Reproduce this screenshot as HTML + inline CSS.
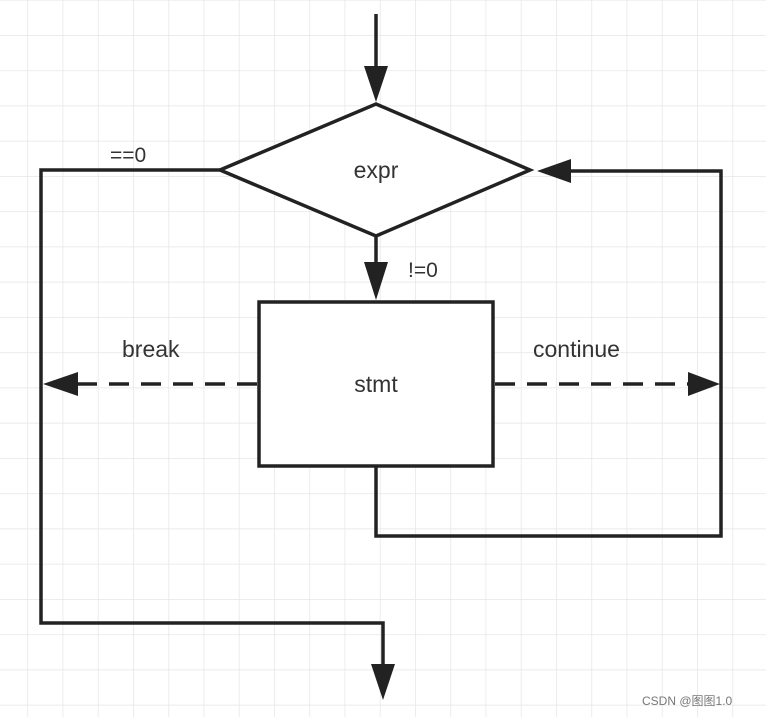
<!DOCTYPE html>
<html><head><style>
html,body{margin:0;padding:0;background:#fff;}
svg{display:block;}
text{font-family:"Liberation Sans",Arial,sans-serif;fill:#333;}
</style></head><body>
<svg width="766" height="717" viewBox="0 0 766 717" xmlns="http://www.w3.org/2000/svg">
<defs>
<pattern id="g" x="27.3" y="0" width="35.25" height="35.25" patternUnits="userSpaceOnUse">
<path d="M0 0V35.25" stroke="#e6e6e6" stroke-width="1.5"/>
</pattern>
<pattern id="h" x="0" y="35" width="35.25" height="35.25" patternUnits="userSpaceOnUse">
<path d="M0 0H35.25" stroke="#e6e6e6" stroke-width="1.5"/>
</pattern>
</defs>
<rect width="766" height="717" fill="url(#g)"/>
<rect width="766" height="717" fill="url(#h)"/>
<g stroke="#222" stroke-width="3.5" fill="none">
<line x1="376" y1="14" x2="376" y2="90"/>
<polygon points="220,170 376,104 530,170 376,236" fill="#fff"/>
<line x1="376" y1="236" x2="376" y2="265"/>
<rect x="259" y="302" width="234" height="164" fill="#fff"/>
<polyline points="220,170 41,170 41,623 383,623 383,670"/>
<polyline points="376,466 376,536 721,536 721,171 568,171"/>
<line x1="257" y1="384" x2="75" y2="384" stroke-dasharray="20,12"/>
<line x1="495" y1="384" x2="690" y2="384" stroke-dasharray="20,12"/>
</g>
<g fill="#222">
<polygon points="364,66 388,66 376,102"/>
<polygon points="364,262 388,262 376,300"/>
<polygon points="371,664 395,664 383,700"/>
<polygon points="537,171 571,159 571,183"/>
<polygon points="43,384 78,372 78,396"/>
<polygon points="720,384 688,372 688,396"/>
</g>
<text x="376" y="178" font-size="23" text-anchor="middle">expr</text>
<text x="376" y="392" font-size="23" text-anchor="middle">stmt</text>
<text x="110" y="162" font-size="21">==0</text>
<text x="408" y="277" font-size="21">!=0</text>
<text x="122" y="357" font-size="23">break</text>
<text x="533" y="357" font-size="23">continue</text>
<text x="642" y="705" font-size="12" style="fill:#777;font-family:'Liberation Sans','Noto Sans CJK SC',sans-serif">CSDN @图图1.0</text>
</svg>
</body></html>
